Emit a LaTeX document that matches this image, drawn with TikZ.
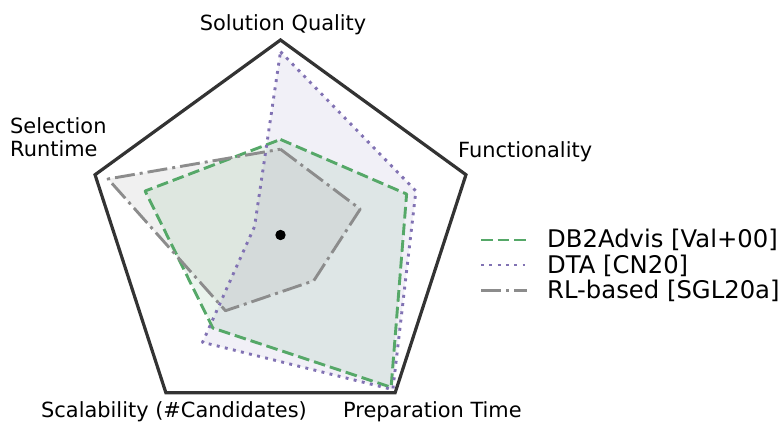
\documentclass[tikz,border=0pt]{standalone}
\usepackage{fontspec}
\setmainfont{DejaVu Sans}
\usetikzlibrary{calc}
\definecolor{sgreen}{HTML}{55A868}
\definecolor{spurple}{HTML}{8172B3}
\definecolor{sgray}{HTML}{8C8C8C}
\definecolor{frame}{HTML}{333333}
\begin{document}
\begin{tikzpicture}[x=1pt,y=1pt,
  axlabel/.style={inner sep=0pt,font=\fontsize{20.9}{23.4}\selectfont},
  legtext/.style={inner sep=0pt,anchor=base west,font=\fontsize{24.3}{28}\selectfont},
  greenline/.style={draw=sgreen,line width=2.9pt,dash pattern=on 11.7pt off 5pt,line join=round},
  purpleline/.style={draw=spurple,line width=2.9pt,dash pattern=on 2.9pt off 5.4pt,line join=round},
  grayline/.style={draw=sgray,line width=2.9pt,dash pattern=on 20pt off 5pt on 3pt off 5pt,line join=round},
  frameline/.style={draw=frame,line width=3.2pt,line join=miter}]
\useasboundingbox (0,0) rectangle (781,423);
\coordinate (c) at (280.5,188);
\def\R{195}
% frame pentagon
\coordinate (v1) at ($(c)+(90:\R)$);
\coordinate (v2) at ($(c)+(18:\R)$);
\coordinate (v3) at ($(c)+(-54:\R)$);
\coordinate (v4) at ($(c)+(-126:\R)$);
\coordinate (v5) at ($(c)+(162:\R)$);
% green data
\coordinate (g1) at ($(c)+(90:0.49*\R)$);
\coordinate (g2) at ($(c)+(18:0.68*\R)$);
\coordinate (g3) at ($(c)+(-54:0.965*\R)$);
\coordinate (g4) at ($(c)+(-126:0.59*\R)$);
\coordinate (g5) at ($(c)+(162:0.73*\R)$);
% purple data
\coordinate (p1) at ($(c)+(90:0.94*\R)$);
\coordinate (p2) at ($(c)+(18:0.73*\R)$);
\coordinate (p3) at ($(c)+(-54:0.98*\R)$);
\coordinate (p4) at ($(c)+(-126:0.68*\R)$);
\coordinate (p5) at ($(c)+(162:0.14*\R)$);
% gray data
\coordinate (r1) at ($(c)+(90:0.44*\R)$);
\coordinate (r2) at ($(c)+(18:0.43*\R)$);
\coordinate (r3) at ($(c)+(-54:0.29*\R)$);
\coordinate (r4) at ($(c)+(-126:0.48*\R)$);
\coordinate (r5) at ($(c)+(162:0.93*\R)$);
% fills
\fill[sgreen,opacity=0.12] (g1)--(g2)--(g3)--(g4)--(g5)--cycle;
\fill[spurple,opacity=0.11] (p1)--(p2)--(p3)--(p4)--(p5)--cycle;
\fill[sgray,opacity=0.13] (r1)--(r2)--(r3)--(r4)--(r5)--cycle;
% lines
\draw[greenline] (g1)--(g2)--(g3)--(g4)--(g5)--cycle;
\draw[purpleline] (p1)--(p2)--(p3)--(p4)--(p5)--cycle;
\draw[grayline] (r1)--(r2)--(r3)--(r4)--(r5)--cycle;
% frame
\draw[frameline] (v1)--(v2)--(v3)--(v4)--(v5)--cycle;
% center dot
\fill[black] (c) circle (5.2);
% labels
\node[axlabel,anchor=base] (lq) at (283,392) {Solution Quality};
\node[axlabel,anchor=base west] (lf) at (458,265.5) {Functionality};
\node[axlabel,anchor=base west,align=left] (ls) at (10,266.3) {Selection\\Runtime};
\node[axlabel,anchor=base] (lsc) at (174,5.5) {Scalability (\#Candidates)};
\node[axlabel,anchor=base] (lp) at (432.4,5.5) {Preparation Time};
% legend
\coordinate (a1) at (481,183); \coordinate (b1) at (527,183);
\coordinate (a2) at (481,158); \coordinate (b2) at (527,158);
\coordinate (a3) at (481,132.5); \coordinate (b3) at (527,132.5);
\draw[greenline] (a1)--(b1);
\draw[purpleline] (a2)--(b2);
\draw[grayline] (a3)--(b3);
\node[legtext] (t1) at (547,175.3) {DB2Advis [Val+00]};
\node[legtext] (t2) at (547,149.7) {DTA [CN20]};
\node[legtext] (t3) at (547,124.7) {RL-based [SGL20a]};
\end{tikzpicture}
\end{document}
